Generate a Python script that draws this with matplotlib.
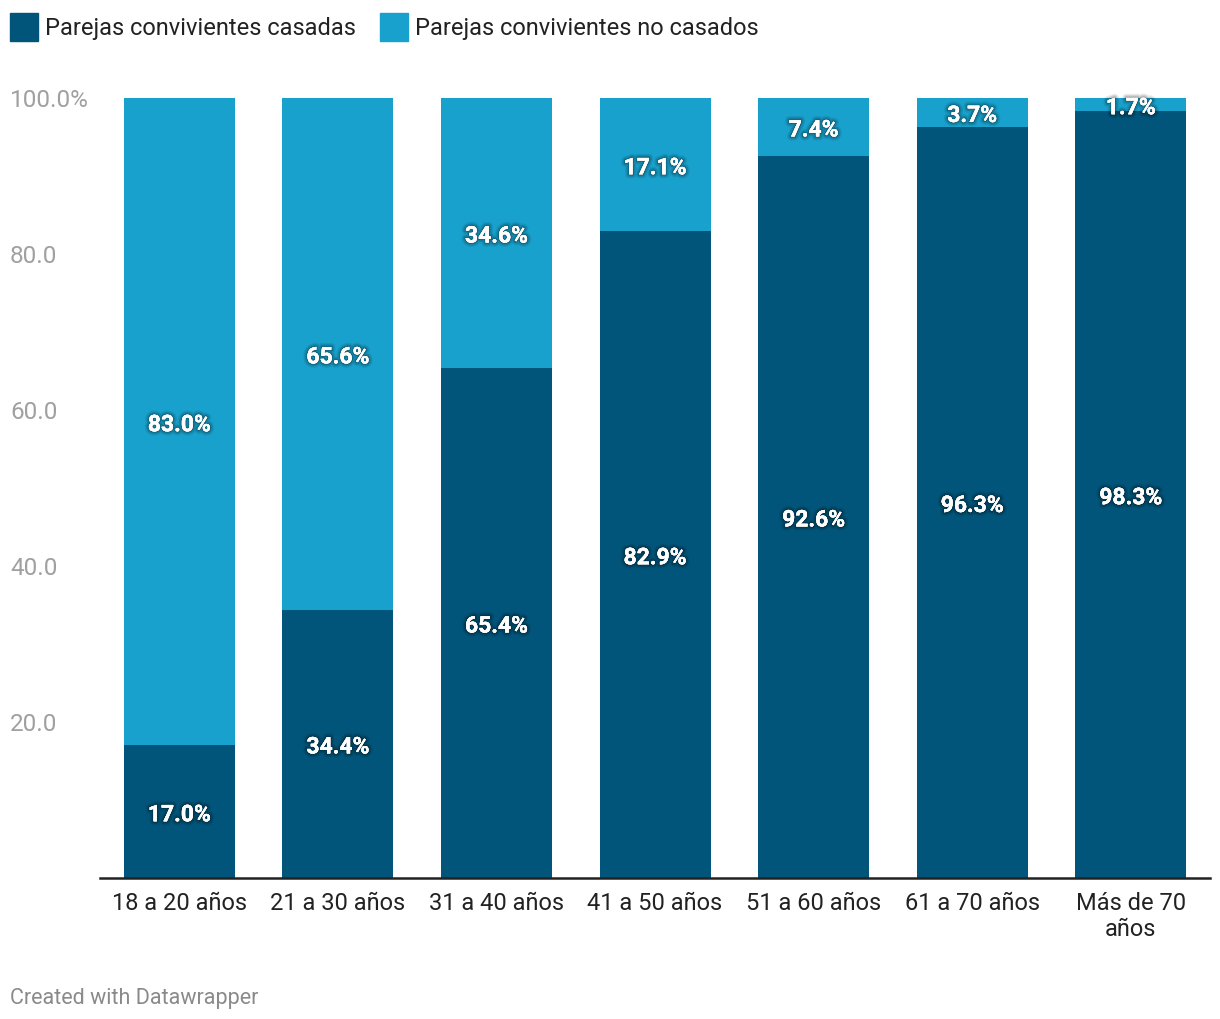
import matplotlib
matplotlib.use("Agg")
import matplotlib.pyplot as plt
import matplotlib.patheffects as pe
from matplotlib.patches import Rectangle

plt.rcParams['font.family'] = ['Roboto', 'DejaVu Sans']

categories = ["18 a 20 años", "21 a 30 años", "31 a 40 años", "41 a 50 años",
              "51 a 60 años", "61 a 70 años", "Más de 70\naños"]
casadas = [17.0, 34.4, 65.4, 82.9, 92.6, 96.3, 98.3]
no_casados = [83.0, 65.6, 34.6, 17.1, 7.4, 3.7, 1.7]
series_names = ["Parejas convivientes casadas", "Parejas convivientes no casados"]
yticks = [20, 40, 60, 80, 100]
ytick_labels = ["20.0", "40.0", "60.0", "80.0", "100.0%"]

c_dark = "#02557a"
c_light = "#18a1cd"

W, H = 1220, 1020
fig = plt.figure(figsize=(W / 100, H / 100), dpi=100)
ax = fig.add_axes([100 / W, 1 - 879 / H, 1110 / W, 780 / H])

x = list(range(len(categories)))
ax.bar(x, casadas, width=0.7, color=c_dark, zorder=2)
ax.bar(x, no_casados, width=0.7, bottom=casadas, color=c_light, zorder=2)

ax.set_xlim(-0.5, len(categories) - 0.5)
ax.set_ylim(0, 100)

effects = [pe.withStroke(linewidth=6, foreground=(0, 0, 0, 0.08)),
           pe.withStroke(linewidth=4, foreground=(0, 0, 0, 0.12)),
           pe.withStroke(linewidth=2, foreground=(0, 0, 0, 0.18)),
           pe.Normal()]
for i in x:
    ax.annotate(f"{casadas[i]:.1f}%", (i, casadas[i] / 2), xytext=(0, -2.2),
                textcoords="offset points", ha="center", va="center",
                color="white", fontsize=16.5, fontweight="bold", path_effects=effects, zorder=3)
    top_center = casadas[i] + no_casados[i] / 2
    ax.annotate(f"{no_casados[i]:.1f}%", (i, top_center), xytext=(0, -2.2),
                textcoords="offset points", ha="center", va="center",
                color="white", fontsize=16.5, fontweight="bold", path_effects=effects, zorder=3)

for s in ["top", "right", "left"]:
    ax.spines[s].set_visible(False)
ax.spines["bottom"].set_linewidth(1.8)
ax.spines["bottom"].set_color("#222222")
ax.spines["bottom"].set_zorder(4)

ax.set_xticks(x)
ax.set_xticklabels(categories, fontsize=17, color="#222222", linespacing=1.2)
ax.tick_params(axis="x", length=0, pad=9)
ax.set_yticks([])

# y tick labels left-aligned at figure x=10px
for v, lab in zip(yticks, ytick_labels):
    ypix = 879 - v * 7.8 + 1.5
    fig.text(10 / W, 1 - ypix / H, lab, ha="left", va="center", fontsize=17.5, color="#a0a0a0")

# legend
for xs, name, col in [(10, series_names[0], c_dark), (380, series_names[1], c_light)]:
    fig.patches.append(Rectangle((xs / W, 1 - 42 / H), 28 / W, 28 / H,
                                 transform=fig.transFigure, color=col))
    fig.text((xs + 35) / W, 1 - 28 / H, name, ha="left", va="center", fontsize=17, color="#222222")

fig.text(10 / W, 1 - 998.5 / H, "Created with Datawrapper", ha="left", va="center",
         fontsize=15.5, color="#8a8a8a")

fig.savefig("out.png", dpi=100, facecolor="white")
